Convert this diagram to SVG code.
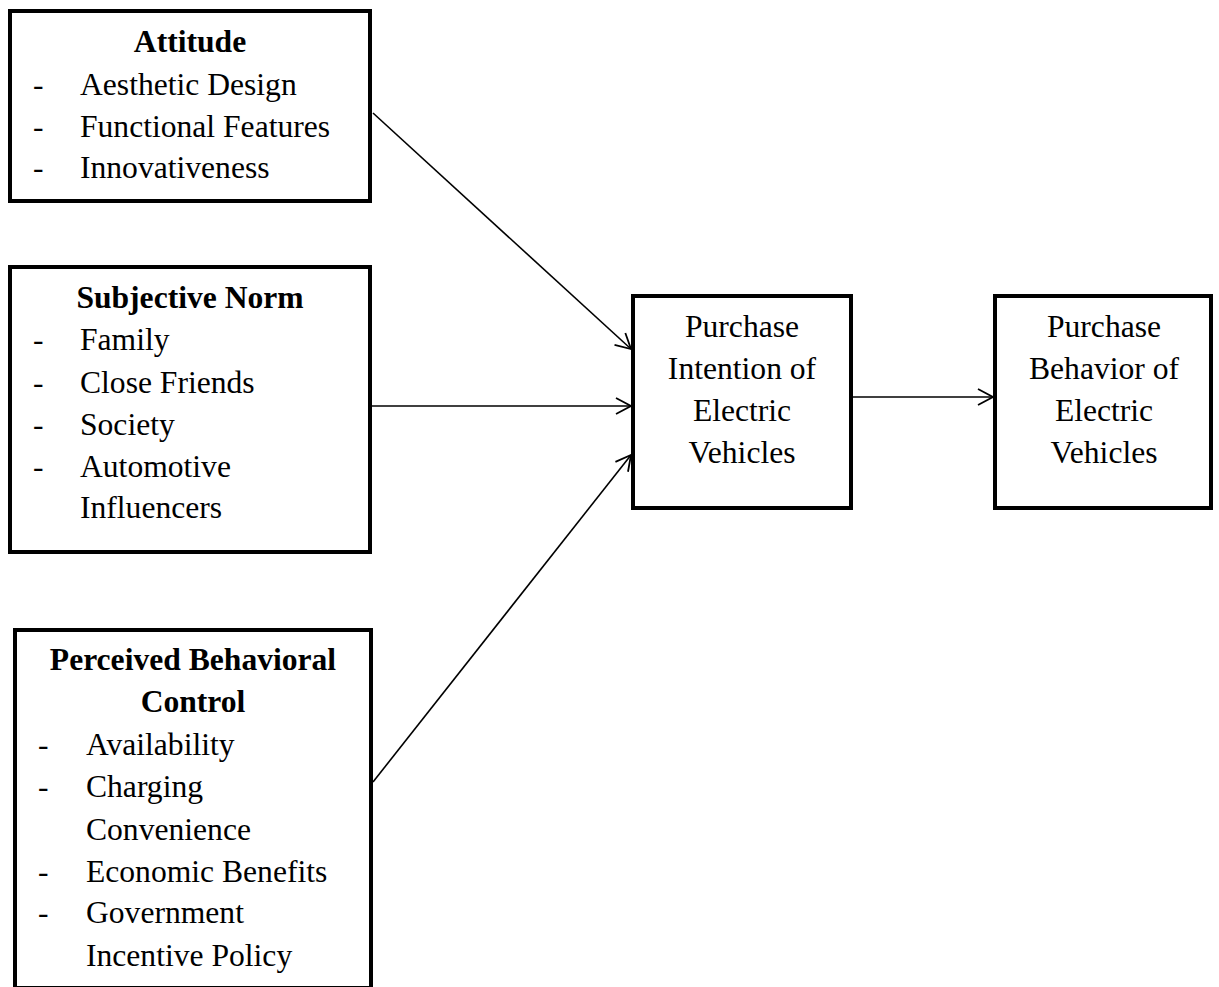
<svg xmlns="http://www.w3.org/2000/svg" width="1219" height="987" viewBox="0 0 1219 987">
<style>
.box{fill:#fff;stroke:#000;stroke-width:4}
.t{font-family:"Liberation Serif","Times New Roman",serif;font-size:31.6px;fill:#000}
.b{font-weight:bold}
.c{text-anchor:middle}
.conn{stroke:#000;stroke-width:1.6;fill:none}
</style>
<defs>
<marker id="arr" markerUnits="userSpaceOnUse" markerWidth="20" markerHeight="20" viewBox="-16 -10 20 20" refX="0" refY="0" orient="auto">
<path d="M-15,-8 L0,0 L-15,8" fill="none" stroke="#000" stroke-width="1.8"/>
</marker>
</defs>
<g id="connectors">
<line class="conn" x1="373" y1="113" x2="631" y2="349" marker-end="url(#arr)"/>
<line class="conn" x1="372" y1="406" x2="631" y2="406" marker-end="url(#arr)"/>
<line class="conn" x1="373" y1="782" x2="631" y2="455" marker-end="url(#arr)"/>
<line class="conn" x1="853" y1="397" x2="993" y2="397" marker-end="url(#arr)"/>
</g>
<g id="attitude">
<rect class="box" x="10" y="11" width="360" height="190"/>
<text class="t b c" x="190" y="52">Attitude</text>
<text class="t" x="33" y="95">-</text><text class="t" x="80" y="95">Aesthetic Design</text>
<text class="t" x="33" y="137">-</text><text class="t" x="80" y="137">Functional Features</text>
<text class="t" x="33" y="178">-</text><text class="t" x="80" y="178">Innovativeness</text>
</g>
<g id="subjective-norm">
<rect class="box" x="10" y="267" width="360" height="285"/>
<text class="t b c" x="190" y="308">Subjective Norm</text>
<text class="t" x="33" y="350">-</text><text class="t" x="80" y="350">Family</text>
<text class="t" x="33" y="393">-</text><text class="t" x="80" y="393">Close Friends</text>
<text class="t" x="33" y="435">-</text><text class="t" x="80" y="435">Society</text>
<text class="t" x="33" y="477">-</text><text class="t" x="80" y="477">Automotive</text>
<text class="t" x="80" y="518">Influencers</text>
</g>
<g id="pbc">
<rect class="box" x="15" y="630" width="356" height="358"/>
<text class="t b c" x="193" y="670">Perceived Behavioral</text>
<text class="t b c" x="193" y="712">Control</text>
<text class="t" x="38" y="755">-</text><text class="t" x="86" y="755">Availability</text>
<text class="t" x="38" y="797">-</text><text class="t" x="86" y="797">Charging</text>
<text class="t" x="86" y="840">Convenience</text>
<text class="t" x="38" y="882">-</text><text class="t" x="86" y="882">Economic Benefits</text>
<text class="t" x="38" y="923">-</text><text class="t" x="86" y="923">Government</text>
<text class="t" x="86" y="966">Incentive Policy</text>
</g>
<g id="intention">
<rect class="box" x="633" y="296" width="218" height="212"/>
<text class="t c" x="742" y="337">Purchase</text>
<text class="t c" x="742" y="379">Intention of</text>
<text class="t c" x="742" y="421">Electric</text>
<text class="t c" x="742" y="463">Vehicles</text>
</g>
<g id="behavior">
<rect class="box" x="995" y="296" width="216" height="212"/>
<text class="t c" x="1104" y="337">Purchase</text>
<text class="t c" x="1104" y="379">Behavior of</text>
<text class="t c" x="1104" y="421">Electric</text>
<text class="t c" x="1104" y="463">Vehicles</text>
</g>
</svg>
